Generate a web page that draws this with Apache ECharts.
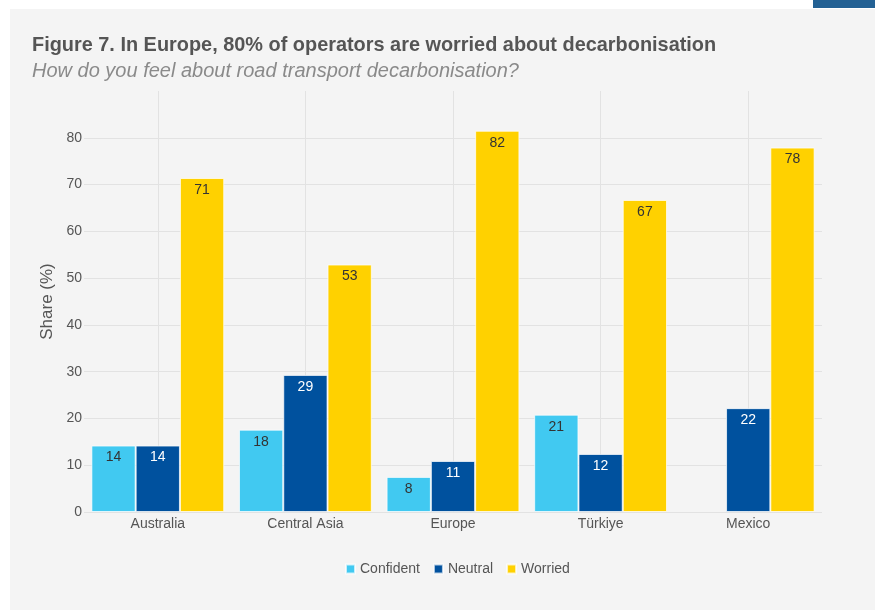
<!DOCTYPE html>
<html>
<head>
<meta charset="utf-8">
<script src="https://cdn.jsdelivr.net/npm/echarts@6/dist/echarts.min.js"></script>
<style>
  html, body { margin: 0; padding: 0; background: #ffffff; }
  #bg { position: absolute; left: 10px; top: 9px; width: 865px; height: 601px; background: #f4f4f4; }
  #tab { position: absolute; left: 813px; top: 0; width: 62px; height: 8px; background: #236194; }
  #chart { position: absolute; left: 0; top: 0; width: 875px; height: 610px; }
</style>
</head>
<body>
<div id="bg"></div>
<div id="tab"></div>
<div id="chart"></div>
<script>
const categories = ['Australia', 'Central Asia', 'Europe', 'Türkiye', 'Mexico'];
const confident = [14.2, 17.6, 7.5, 20.8, null];
const neutral = [14.2, 29.3, 10.9, 12.4, 22.2];
const worried = [71.4, 52.9, 81.5, 66.7, 77.9];
const seriesNames = ['Confident', 'Neutral', 'Worried'];
const yTicks = [0, 10, 20, 30, 40, 50, 60, 70, 80];

const colors = ['#41C9F1', '#00519E', '#FFD100'];
const labelColors = ['#333333', '#ffffff', '#333333'];
const font = '"Liberation Sans", Arial, Helvetica, sans-serif';

const chart = echarts.init(document.getElementById('chart'), null, { renderer: 'canvas' });

function mk(name, data, i) {
  return {
    name: name,
    type: 'bar',
    data: data,
    barGap: '0%',
    barCategoryGap: '10%',
    itemStyle: { color: colors[i], borderColor: 'rgba(255,255,255,0.7)', borderWidth: 1 },
    label: {
      show: true,
      position: 'insideTop',
      distance: 5,
      color: labelColors[i],
      fontSize: 14,
      fontFamily: font,
      formatter: p => (p.value == null ? '' : String(Math.round(p.value)))
    },
    emphasis: { disabled: true }
  };
}

chart.setOption({
  animation: false,
  backgroundColor: 'transparent',
  textStyle: { fontFamily: font },
  title: [
    {
      text: 'Figure 7. In Europe, 80% of operators are worried about decarbonisation',
      left: 27, top: 31,
      textStyle: { fontSize: 19.9, fontWeight: 'bold', color: '#555555', fontFamily: font }
    },
    {
      text: 'How do you feel about road transport decarbonisation?',
      left: 27, top: 56,
      textStyle: { fontSize: 20, fontStyle: 'italic', fontWeight: 'normal', color: '#8a8a8a', fontFamily: font }
    }
  ],
  legend: {
    data: seriesNames,
    bottom: 29,
    left: 340,
    icon: 'rect',
    itemWidth: 9,
    itemHeight: 9,
    itemGap: 13,
    textStyle: { color: '#555555', fontSize: 14, fontFamily: font }
  },
  grid: { left: 84, right: 53, top: 91, bottom: 98, containLabel: false },
  xAxis: {
    type: 'category',
    data: categories,
    axisLine: { show: false },
    axisTick: { show: false },
    axisLabel: { color: '#555555', fontSize: 14, margin: 5, fontFamily: font },
    splitLine: { show: true, alignWithLabel: true, lineStyle: { color: '#e2e2e2', width: 1 } }
  },
  yAxis: {
    type: 'value',
    min: 0,
    max: 90,
    interval: 10,
    name: 'Share (%)',
    nameLocation: 'middle',
    nameGap: 23,
    nameTextStyle: { color: '#555555', fontSize: 17, fontFamily: font },
    axisLine: { show: false },
    axisTick: { show: false },
    axisLabel: {
      color: '#555555', fontSize: 14, margin: 2, fontFamily: font,
      showMaxLabel: false,
      formatter: v => (yTicks.indexOf(v) >= 0 ? String(v) : '')
    },
    splitLine: { show: true, showMaxLine: false, lineStyle: { color: '#e2e2e2', width: 1 } }
  },
  series: [
    mk(seriesNames[0], confident, 0),
    mk(seriesNames[1], neutral, 1),
    mk(seriesNames[2], worried, 2)
  ]
});
</script>
</body>
</html>
